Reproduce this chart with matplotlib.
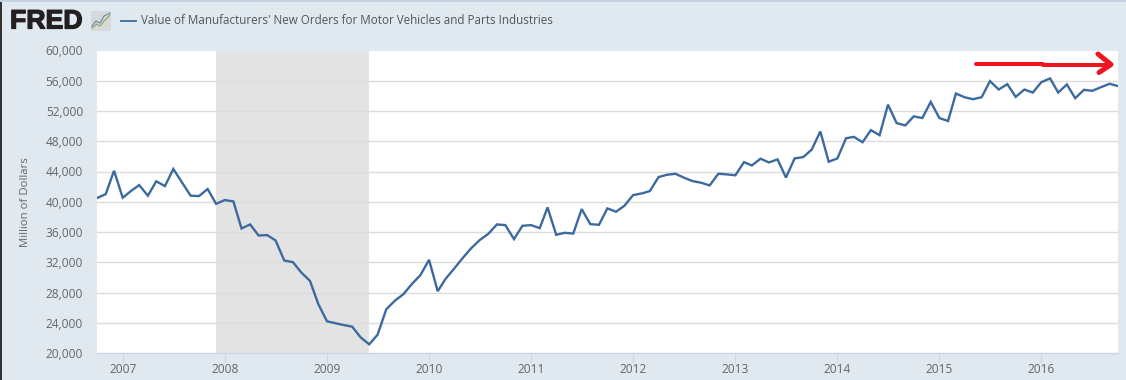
import matplotlib
matplotlib.use('Agg')
import matplotlib.pyplot as plt
import matplotlib.patheffects as pe
import pandas as pd
from matplotlib.lines import Line2D
from matplotlib.patches import Rectangle

title = "Value of Manufacturers' New Orders for Motor Vehicles and Parts Industries"
ylabel = 'Million of Dollars'

start_month = '2006-10-01'
end_month = '2016-10-01'
recession_start = '2007-12-01'
recession_end = '2009-06-01'

orders_2006 = [40490, 41000, 44100]
orders_2007 = [40530, 41460, 42200, 40800, 42700, 42070, 44330, 42560, 40800, 40750, 41680, 39730]
orders_2008 = [40220, 40040, 36470, 37000, 35540, 35590, 34880, 32230, 32010, 30640, 29540, 26450]
orders_2009 = [24190, 23930, 23700, 23490, 22070, 21150, 22430, 25780, 26930, 27770, 29140, 30290]
orders_2010 = [32320, 28170, 29800, 31170, 32540, 33860, 34920, 35760, 37000, 36910, 35060, 36820]
orders_2011 = [36910, 36510, 39250, 35630, 35890, 35800, 39030, 37040, 36950, 39120, 38680, 39470]
orders_2012 = [40880, 41100, 41410, 43260, 43570, 43700, 43180, 42730, 42510, 42160, 43700, 43620]
orders_2013 = [43500, 45240, 44800, 45690, 45200, 45600, 43200, 45730, 45910, 46890, 49290, 45290]
orders_2014 = [45730, 48400, 48580, 47870, 49470, 48800, 52840, 50400, 50090, 51290, 51070, 53200]
orders_2015 = [51070, 50670, 54310, 53820, 53560, 53820, 55950, 54840, 55550, 53870, 54840, 54440]
orders_2016 = [55820, 56310, 54440, 55510, 53690, 54800, 54670, 55150, 55600, 55290]

orders = (orders_2006 + orders_2007 + orders_2008 + orders_2009 + orders_2010 + orders_2011
          + orders_2012 + orders_2013 + orders_2014 + orders_2015 + orders_2016)
months = pd.date_range(start_month, end_month, freq='MS')

year_labels = [2007, 2008, 2009, 2010, 2011, 2012, 2013, 2014, 2015, 2016]
y_ticks = [20000, 24000, 28000, 32000, 36000, 40000, 44000, 48000, 52000, 56000, 60000]

W, H = 1126, 380
BG = '#e1e9f0'
TEXT = '#666666'
plt.rcParams['font.family'] = ['Open Sans', 'DejaVu Sans']

fig = plt.figure(figsize=(W / 100, H / 100), dpi=100, facecolor=BG)


def px(x, y):
    # figure fraction from image pixels, origin top left
    return x / W, 1 - y / H


ax = fig.add_axes([97 / W, 1 - 353 / H, (1118 - 97) / W, (353 - 50.5) / H])
ax.set_facecolor('white')
ax.axvspan(pd.Timestamp(recession_start), pd.Timestamp(recession_end), color='#e3e3e3', lw=0, zorder=1)
ax.plot(months, orders, color='#3d6a9e', lw=1.7, solid_joinstyle='miter', zorder=3)

ax.set_xlim(months[0], months[-1])
ax.set_ylim(20000, 60000)
ax.set_yticks(y_ticks)
ax.set_yticklabels([f'{v:,}' for v in y_ticks])
ax.set_xticks([pd.Timestamp(f'{y}-01-01') for y in year_labels])
ax.set_xticklabels([str(y) for y in year_labels])
ax.grid(axis='y', color='#dcdcdc', lw=1.0, zorder=2)
ax.get_ygridlines()[-1].set_visible(False)
ax.get_ygridlines()[0].set_visible(False)
ax.set_axisbelow(False)
ax.tick_params(axis='y', length=0, pad=10, labelsize=8.6, labelcolor=TEXT)
ax.tick_params(axis='x', length=7, width=0.8, color='#ccd6eb', pad=0, labelsize=8.6, labelcolor=TEXT)
for name in ['top', 'left', 'right']:
    ax.spines[name].set_visible(False)
ax.spines['bottom'].set_color('#ccd6eb')
ax.spines['bottom'].set_linewidth(1)

fig.text(*px(26, 202), ylabel, rotation=90, ha='center', va='center', fontsize=8.2, color=TEXT)

# header
fig.text(*px(141, 20), title, ha='left', va='center', fontsize=8.4, color='#555555')
fig.add_artist(Line2D([121 / W, 136 / W], [1 - 20.5 / H] * 2, color='#3d6a9e', lw=1.3))
fig.text(*px(10, 21.5), 'FRED', ha='left', va='center', fontsize=19.2, fontweight='bold', color='#231f20',
         family=['Liberation Sans', 'DejaVu Sans'],
         path_effects=[pe.withStroke(linewidth=0.9, foreground='#231f20')])

# small chart icon next to the logo
fig.add_artist(Rectangle((91 / W, 1 - 31 / H), 20 / W, 20 / H, transform=fig.transFigure,
                         facecolor='#d6d9d8', edgecolor='none'))
fig.add_artist(Line2D([x / W for x in (92, 97, 100, 105, 110)], [1 - y / H for y in (28, 24, 26, 20, 15)],
                      color='#8fae6a', lw=0.9))
fig.add_artist(Line2D([x / W for x in (92, 96, 100, 104, 110)], [1 - y / H for y in (26, 21, 23, 16, 13)],
                      color='#6f8fb0', lw=0.9))

# red hand drawn arrow
RED = '#ee1520'
arrow = dict(color=RED, lw=2.9, solid_capstyle='round', solid_joinstyle='round')
fig.add_artist(Line2D([976 / W, 1043 / W], [1 - 63.5 / H] * 2, **arrow))
fig.add_artist(Line2D([1043 / W, 1110 / W], [1 - 64.8 / H] * 2, **arrow))
arrow['lw'] = 3.6
fig.add_artist(Line2D([x / W for x in (1098, 1111, 1099)], [1 - y / H for y in (54, 64.5, 72.5)], **arrow))

# page edges
fig.add_artist(Rectangle((0, 0), 1.5 / W, 1, transform=fig.transFigure, facecolor='#333333', edgecolor='none'))
fig.add_artist(Rectangle((0, 1 - 1.5 / H), 1, 1.5 / H, transform=fig.transFigure, facecolor='#c3d1e0', edgecolor='none'))

fig.savefig('out.png', dpi=100, facecolor=BG)
